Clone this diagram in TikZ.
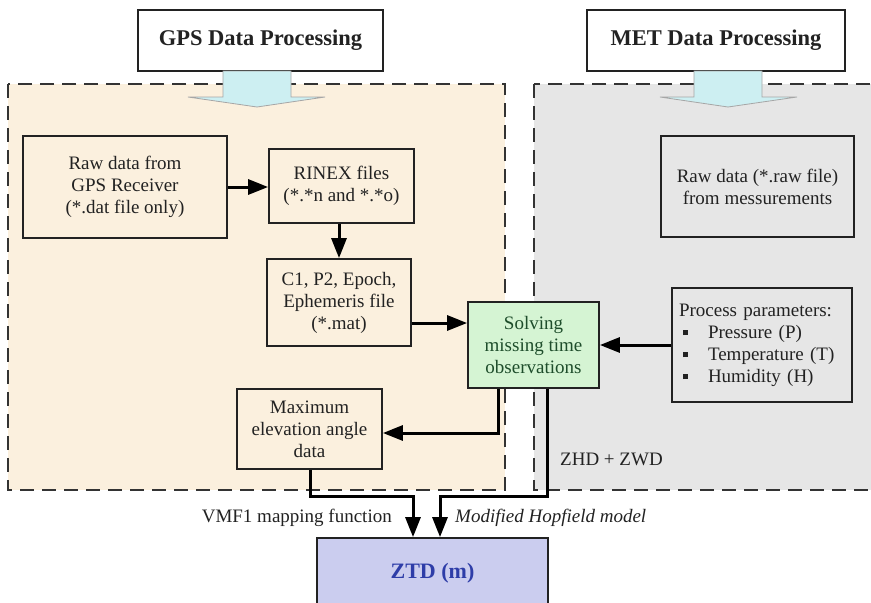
\documentclass[tikz,border=0pt]{standalone}
\usepackage{fontspec}
\setmainfont{Liberation Serif}
\usetikzlibrary{arrows.meta}

\definecolor{gpsbg}{HTML}{FBF0DE}
\definecolor{metbg}{HTML}{E6E6E6}
\definecolor{blockarrow}{HTML}{CDEFF2}
\definecolor{solvefill}{HTML}{D5F4D3}
\definecolor{solvetext}{HTML}{1E4D2B}
\definecolor{ztdfill}{HTML}{CBCDEF}
\definecolor{ztdtext}{HTML}{2E3DA8}
\definecolor{ink}{HTML}{222222}
\definecolor{dashink}{HTML}{333333}

\tikzset{
  region/.style={draw=dashink, line width=2pt, dash pattern=on 14pt off 8pt},
  title/.style={draw=ink, line width=1.8pt, fill=white, font=\fontsize{22.5}{26}\selectfont\bfseries, text=ink},
  box/.style={draw=ink, line width=1.8pt, align=center, font=\fontsize{19}{22}\selectfont, text=ink, inner sep=0pt},
  flow/.style={draw=black, line width=3pt, -{Triangle[length=20pt,width=15pt]}},
  bigarrow/.style={fill=blockarrow, draw=gray!70, line width=0.8pt},
  lbl/.style={font=\fontsize{19}{22}\selectfont, text=ink, inner sep=0pt}
}
\newcommand{\sqbullet}{\makebox[29pt][l]{\hspace{4pt}\rule[0.35ex]{5pt}{5pt}}}

\begin{document}
\begin{tikzpicture}[x=1pt, y=-1pt]
  \useasboundingbox (0,0) rectangle (871,603);
  \clip (0,0) rectangle (871,603);
  \fill[white] (0,0) rectangle (871,603);

  % dashed processing regions
  \filldraw[region, fill=gpsbg] (8,84) rectangle (505,490);
  \filldraw[region, fill=metbg] (534,84) rectangle (890,490);

  % headers
  \node[title, minimum width=245pt, minimum height=61pt] (gpstitle) at (260.5,40.5) {GPS Data Processing};
  \node[title, minimum width=258pt, minimum height=61pt] (mettitle) at (716,40.5) {MET Data Processing};

  % broad arrows from the headers into the regions
  \filldraw[bigarrow] (223,71) -- (223,97) -- (188,97) -- (257,107) -- (325,97) -- (291,97) -- (291,71) -- cycle;
  \filldraw[bigarrow] (694,71) -- (694,97) -- (660,97) -- (728,107) -- (797,97) -- (762,97) -- (762,71) -- cycle;

  % GPS side
  \node[box, minimum width=204pt, minimum height=102pt] (raw) at (125,187)
    {Raw data from\\GPS Receiver\\(*.dat file only)};
  \node[box, minimum width=145pt, minimum height=74pt] (rinex) at (341.5,186)
    {RINEX files\\(*.*n and *.*o)};
  \node[box, minimum width=144pt, minimum height=87pt] (c1) at (339,302.5)
    {C1, P2, Epoch,\\Ephemeris file\\(*.mat)};
  \node[box, minimum width=145pt, minimum height=80pt] (maxel) at (309.5,429)
    {Maximum\\elevation angle\\data};

  % central step
  \node[box, fill=solvefill, text=solvetext, minimum width=131pt, minimum height=86pt] (solve) at (533.5,345)
    {Solving\\missing time\\observations};

  % MET side
  \node[box, minimum width=193pt, minimum height=101pt] (metraw) at (757.5,186.5)
    {Raw data (*.raw file)\\from messurements};
  \node[box, align=left, minimum width=180pt, minimum height=114pt, text width=166pt, inner xsep=7pt] (proc) at (762,345)
    {Process parameters:\\\sqbullet Pressure (P)\\\sqbullet Temperature (T)\\\sqbullet Humidity (H)};

  % result
  \node[box, fill=ztdfill, text=ztdtext, font=\fontsize{22}{26}\selectfont\bfseries,
        minimum width=231pt, minimum height=70pt] (ztd) at (432.5,573) {ZTD (m)};

  % corner points of the routed connectors
  \coordinate (s1) at (498,433);
  \coordinate (s2a) at (547,496);
  \coordinate (s2b) at (440,496);
  \coordinate (m1) at (310,496);
  \coordinate (m2) at (413,496);

  % connectors
  \draw[flow] (raw.east) -- (rinex.west |- raw.east);
  \draw[flow] (rinex.south -| c1.north) -- (c1.north);
  \draw[flow] ([yshift=-20.5pt]c1.east) -- ([yshift=-20.5pt]c1.east -| solve.west);
  \draw[flow] (proc.west) -- (solve.east);
  \draw[flow] (solve.south -| s1) -- (s1) -- (maxel.east |- s1);
  \draw[flow] (solve.south -| s2a) -- (s2a) -- (s2b) -- (ztd.north -| s2b);
  \draw[flow] (maxel.south -| m1) -- (m1) -- (m2) -- (ztd.north -| m2);

  % connector labels
  \node[lbl, anchor=base east] (vmf) at (392,522) {VMF1 mapping function};
  \node[lbl, anchor=base west] (hop) at (455,522) {\itshape Modified Hopfield model};
  \node[lbl, anchor=base west] (zhd) at (560,465) {ZHD + ZWD};
\end{tikzpicture}
\end{document}
